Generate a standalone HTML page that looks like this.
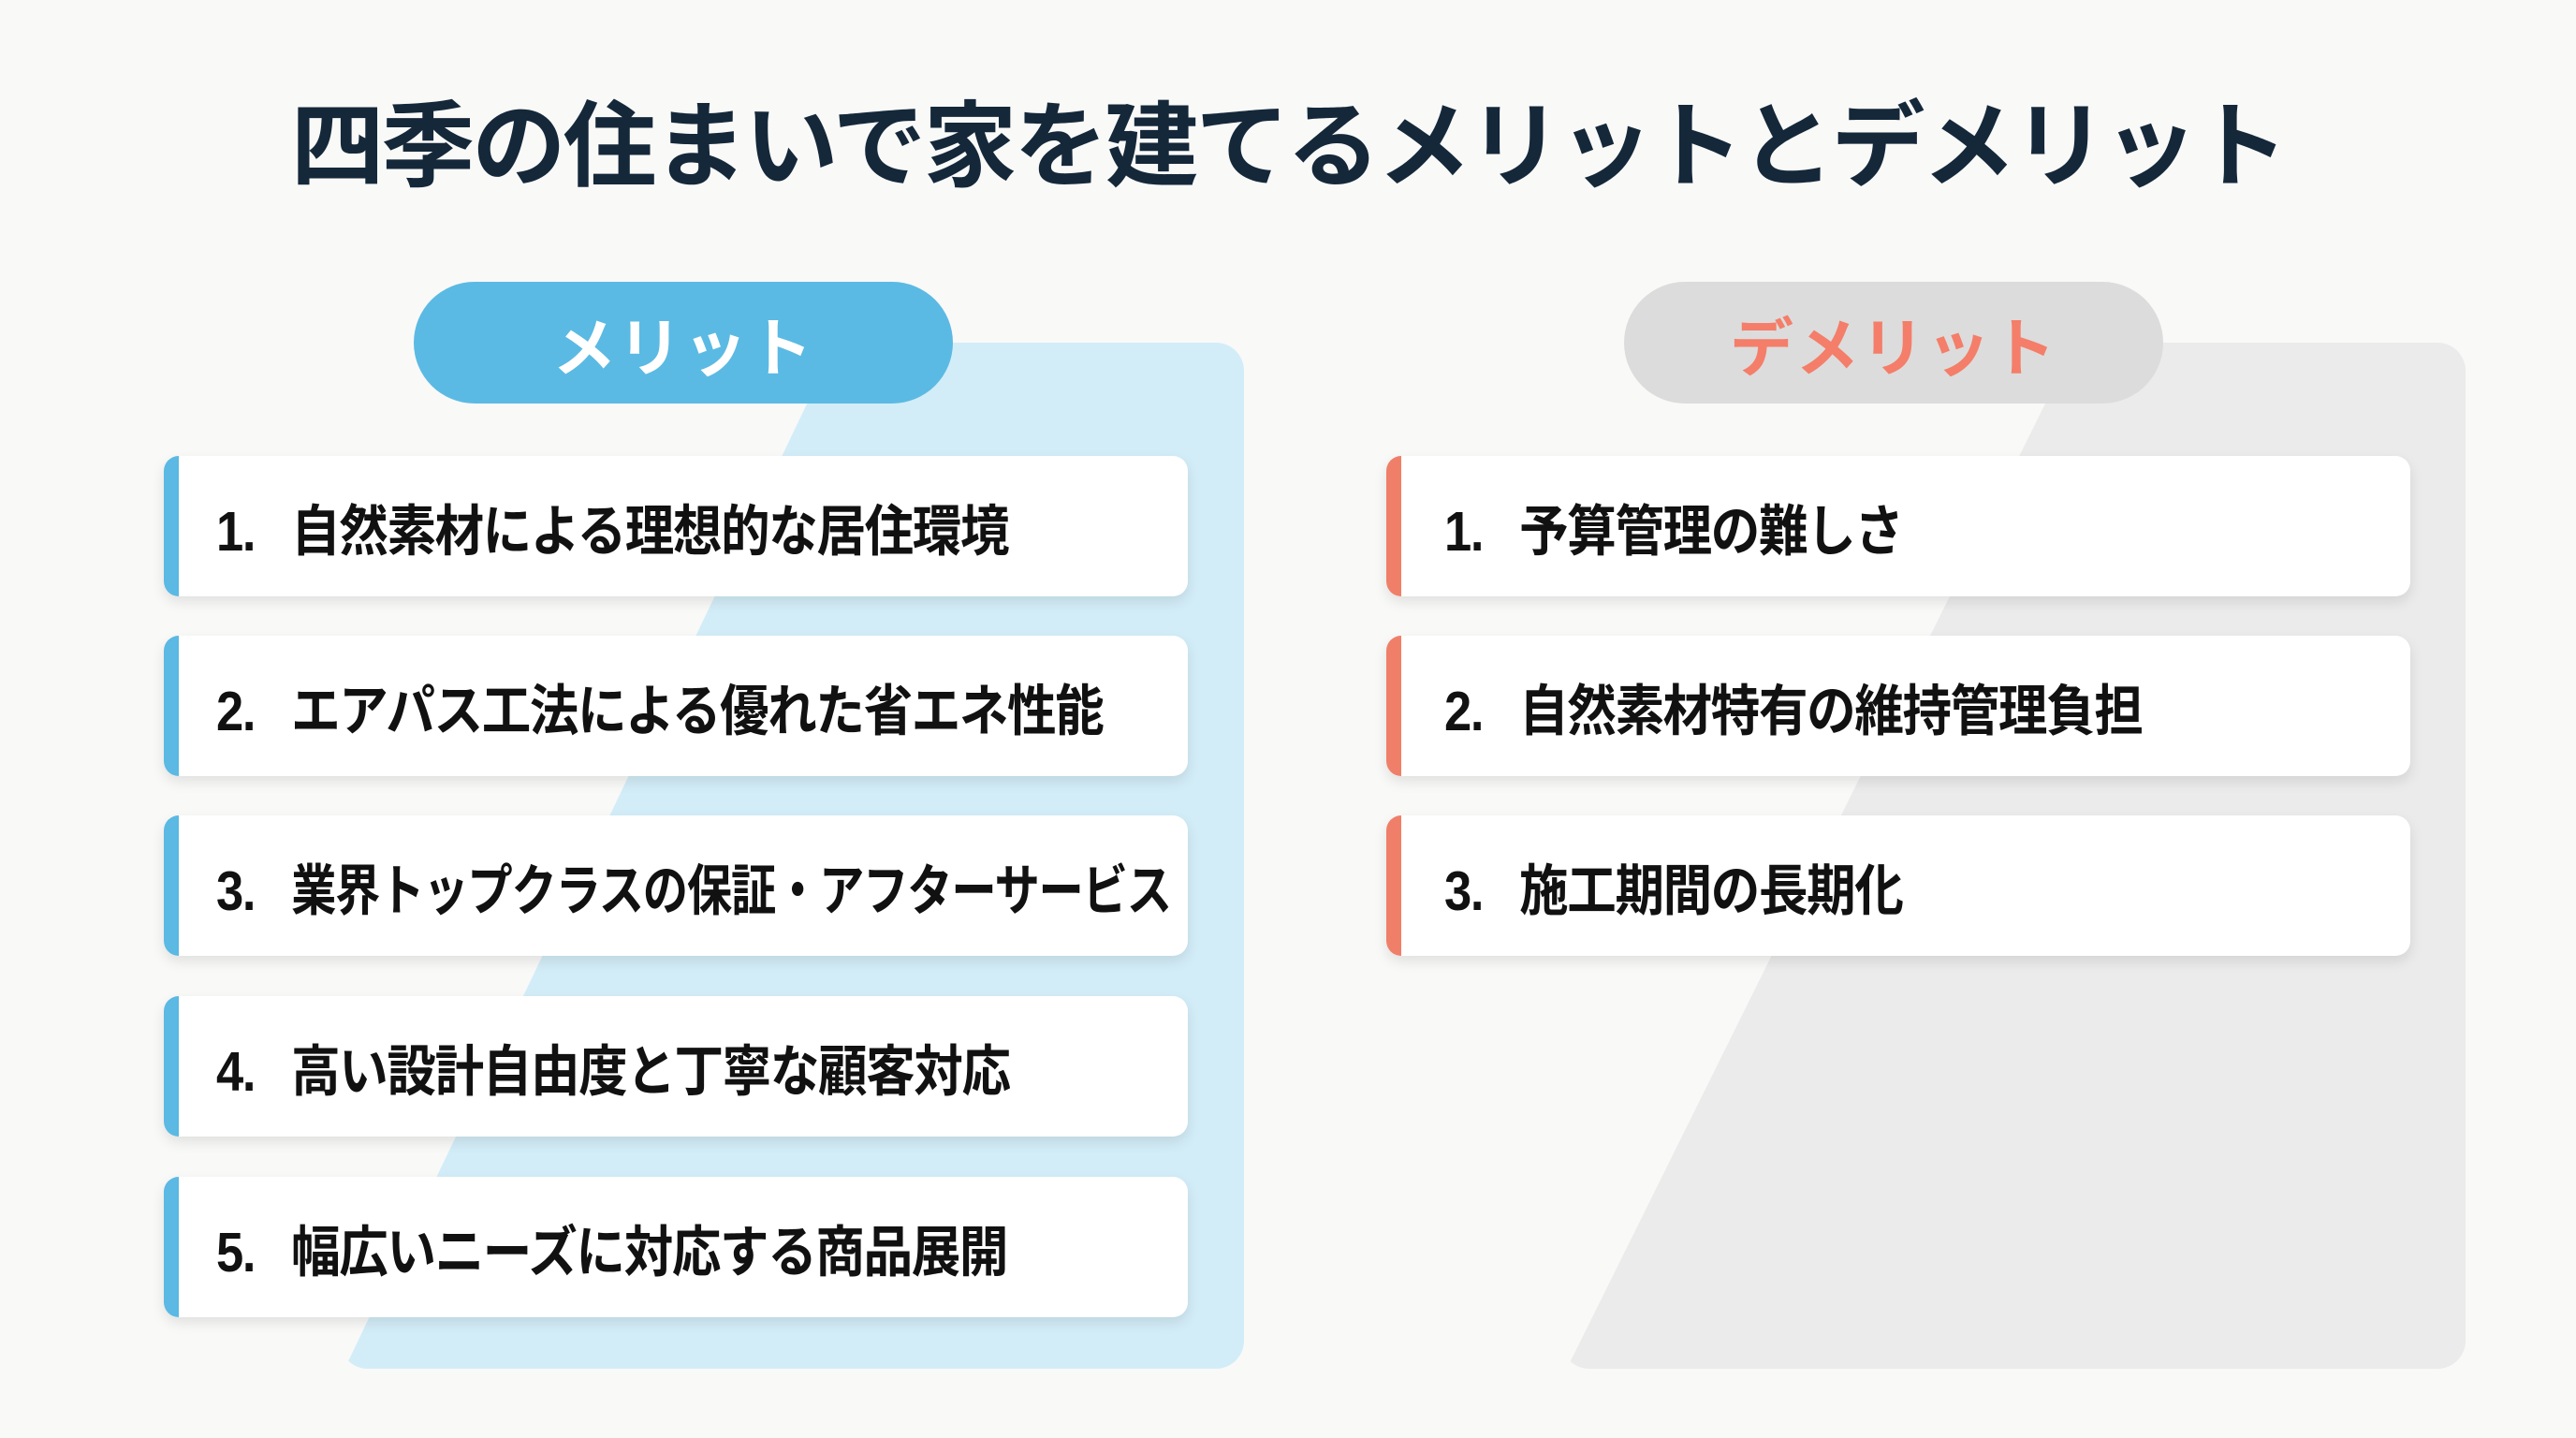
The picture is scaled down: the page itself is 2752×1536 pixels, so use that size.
<!DOCTYPE html>
<html><head><meta charset="utf-8"><style>
*{margin:0;padding:0;box-sizing:border-box}
body{width:2752px;height:1536px;background:#f9f9f8;position:relative;overflow:hidden;font-family:"Liberation Sans","Noto Sans CJK JP",sans-serif}
.title{position:absolute;left:0;width:2752px;top:92px;text-align:center;font-size:100px;font-weight:700;color:#15283a;letter-spacing:-3px;line-height:130px}
.pill{position:absolute;height:130px;border-radius:65px;display:flex;align-items:center;justify-content:center;font-size:68px;font-weight:700;letter-spacing:2px}
.card{position:absolute;width:1094px;height:150px;background:#fff;border-radius:16px;box-shadow:0 6px 14px rgba(0,0,0,0.10);display:flex;align-items:center;padding-left:56px;font-size:59px;font-weight:700;color:#111;letter-spacing:-1.5px;white-space:nowrap}
.card::before{content:"";position:absolute;left:0;top:0;bottom:0;width:16px;border-radius:16px 0 0 16px}
.card .t{display:inline-block;flex-shrink:0;transform:scaleX(0.89);transform-origin:left center;white-space:nowrap}
.b::before{background:#5bb9e3}
.r::before{background:#f07f69}
.num{display:inline-block;width:90px}
</style></head><body>
<svg width="2752" height="1536" style="position:absolute;left:0;top:0">
<defs>
<clipPath id="c1"><polygon points="925,300 1400,300 1400,1500 350,1500"/></clipPath>
<clipPath id="c2"><polygon points="2250,300 2705,300 2705,1500 1655,1500"/></clipPath>
</defs>
<rect x="363" y="366" width="966" height="1096" rx="30" fill="#d3edf8" clip-path="url(#c1)"/>
<rect x="1668" y="366" width="966" height="1096" rx="30" fill="#ebebeb" clip-path="url(#c2)"/>
</svg>
<div class="title">四季の住まいで家を建てるメリットとデメリット</div>
<div class="pill" style="left:442px;top:301px;width:576px;background:#5bbae3;color:#fff">メリット</div>
<div class="pill" style="left:1735px;top:301px;width:576px;background:#dcdcdc;color:#f47e69">デメリット</div>

<div class="card b" style="left:175px;top:487px"><span class="t"><span class="num">1.</span>自然素材による理想的な居住環境</span></div>
<div class="card b" style="left:175px;top:679px"><span class="t"><span class="num">2.</span>エアパス工法による優れた省エネ性能</span></div>
<div class="card b" style="left:175px;top:871px"><span class="t" style="transform:scaleX(0.89)"><span class="num">3.</span><span style="display:inline-block;transform:scaleX(0.92);transform-origin:left center">業界トップクラスの保証・アフターサービス</span></span></div>
<div class="card b" style="left:175px;top:1064px"><span class="t"><span class="num">4.</span>高い設計自由度と丁寧な顧客対応</span></div>
<div class="card b" style="left:175px;top:1257px"><span class="t"><span class="num">5.</span>幅広いニーズに対応する商品展開</span></div>

<div class="card r" style="left:1481px;top:487px;padding-left:62px"><span class="t"><span class="num">1.</span>予算管理の難しさ</span></div>
<div class="card r" style="left:1481px;top:679px;padding-left:62px"><span class="t"><span class="num">2.</span>自然素材特有の維持管理負担</span></div>
<div class="card r" style="left:1481px;top:871px;padding-left:62px"><span class="t"><span class="num">3.</span>施工期間の長期化</span></div>
</body></html>
